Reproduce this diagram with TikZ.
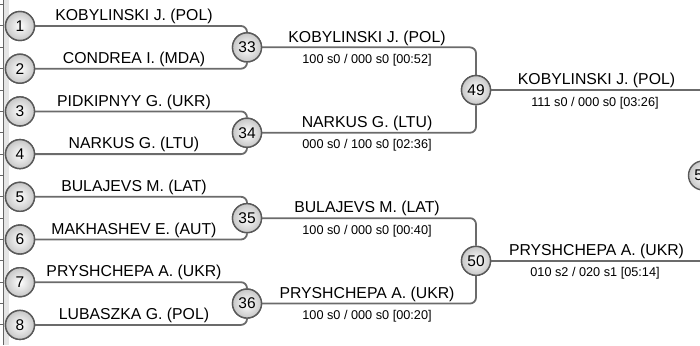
\documentclass[tikz,border=0pt]{standalone}
\usepackage{fontspec}
\setmainfont{Liberation Sans}
\begin{document}
\begin{tikzpicture}[x=1pt,y=-1pt,
  seed/.style={circle,draw=black!65,line width=1.4pt,minimum size=29pt,inner sep=0pt,
    shading=radial,inner color=white,outer color=black!22,
    font=\fontsize{15.5}{16}\selectfont},
  link/.style={draw=black!58,line width=1.8pt,rounded corners=6pt},
  pname/.style={anchor=base,inner sep=0pt,font=\fontsize{15.8}{18}\selectfont},
  pscore/.style={anchor=base,inner sep=0pt,font=\fontsize{12.7}{14}\selectfont},
  edgeline/.style={draw=black!60,line width=1pt}]
\useasboundingbox (0,0) rectangle (700,345);
\clip (0,0) rectangle (700,345);
% left edge band
\fill[black!10] (3.5,0) rectangle (9,345);
\draw[edgeline] (3.5,0) -- (3.5,345);
\foreach \k in {0,...,16} {
  \draw[edgeline] (0,4.65+21.35*\k) -- (4,4.65+21.35*\k);
}
% nodes
\def\rowy#1{26+42.7*(#1-1)}
\foreach \i in {1,...,8} {
  \node[seed] (p\i) at (20,{26+42.7*(\i-1)}) {\i};
}
\node[seed] (m33) at (247,47.35) {33};
\node[seed] (m34) at (247,132.75) {34};
\node[seed] (m35) at (247,218.15) {35};
\node[seed] (m36) at (247,303.55) {36};
\node[seed] (m49) at (476,90.05) {49};
\node[seed] (m50) at (476,260.85) {50};
\node[seed] (m57) at (703,175.45) {57};
\coordinate (e49) at (700,90.05);
\coordinate (e50) at (700,260.85);
% connectors round 1
\draw[link] (p1.east) -- (p1.east -| m33) -- (m33.north);
\draw[link] (p2.east) -- (p2.east -| m33) -- (m33.south);
\draw[link] (p3.east) -- (p3.east -| m34) -- (m34.north);
\draw[link] (p4.east) -- (p4.east -| m34) -- (m34.south);
\draw[link] (p5.east) -- (p5.east -| m35) -- (m35.north);
\draw[link] (p6.east) -- (p6.east -| m35) -- (m35.south);
\draw[link] (p7.east) -- (p7.east -| m36) -- (m36.north);
\draw[link] (p8.east) -- (p8.east -| m36) -- (m36.south);
% round 2
\draw[link] (m33.east) -- (m33.east -| m49) -- (m49.north);
\draw[link] (m34.east) -- (m34.east -| m49) -- (m49.south);
\draw[link] (m35.east) -- (m35.east -| m50) -- (m50.north);
\draw[link] (m36.east) -- (m36.east -| m50) -- (m50.south);
% round 3
\draw[link] (m49.east) -- (e49);
\draw[link] (m50.east) -- (e50);
% redraw circles on top
\foreach \n/\t in {p1/1,p2/2,p3/3,p4/4,p5/5,p6/6,p7/7,p8/8,m33/33,m34/34,m35/35,m36/36,m49/49,m50/50} {
  \node[seed] at (\n) {\t};
}
% names round 1
\node[pname] (n1) at (134,20.7) {KOBYLINSKI J. (POL)};
\node[pname] (n2) at (134,63.4) {CONDREA I. (MDA)};
\node[pname] (n3) at (134,106.1) {PIDKIPNYY G. (UKR)};
\node[pname] (n4) at (134,148.8) {NARKUS G. (LTU)};
\node[pname] (n5) at (134,191.5) {BULAJEVS M. (LAT)};
\node[pname] (n6) at (134,234.2) {MAKHASHEV E. (AUT)};
\node[pname] (n7) at (134,276.9) {PRYSHCHEPA A. (UKR)};
\node[pname] (n8) at (134,319.6) {LUBASZKA G. (POL)};
% round 2
\node[pname] (w33) at (367,42.05) {KOBYLINSKI J. (POL)};
\node[pscore] (s33) at (367,63.5) {100 s0 / 000 s0 [00:52]};
\node[pname] (w34) at (367,127.45) {NARKUS G. (LTU)};
\node[pscore] (s34) at (367,148.9) {000 s0 / 100 s0 [02:36]};
\node[pname] (w35) at (367,212.85) {BULAJEVS M. (LAT)};
\node[pscore] (s35) at (367,234.3) {100 s0 / 000 s0 [00:40]};
\node[pname] (w36) at (367,298.25) {PRYSHCHEPA A. (UKR)};
\node[pscore] (s36) at (367,319.7) {100 s0 / 000 s0 [00:20]};
% round 3
\node[pname] (w49) at (596.5,84.8) {KOBYLINSKI J. (POL)};
\node[pscore] (s49) at (595,106) {111 s0 / 000 s0 [03:26]};
\node[pname] (w50) at (596.5,255.6) {PRYSHCHEPA A. (UKR)};
\node[pscore] (s50) at (595,276.8) {010 s2 / 020 s1 [05:14]};
\end{tikzpicture}
\end{document}
